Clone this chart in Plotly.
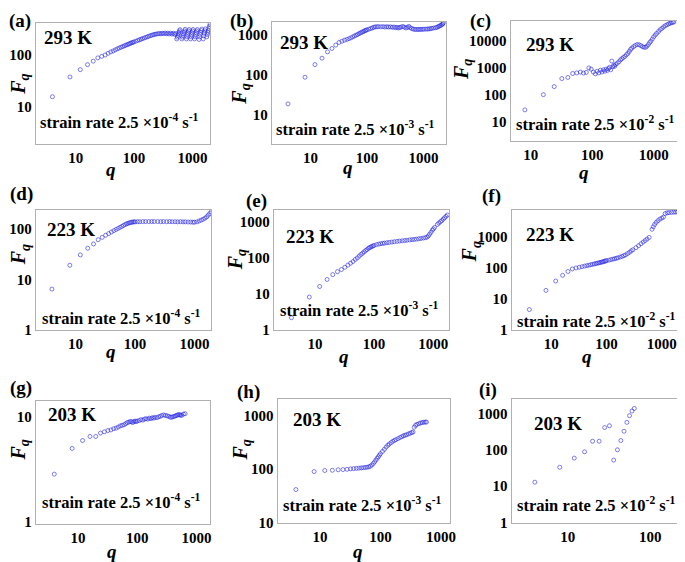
import plotly.graph_objects as go

# ---------------- data ----------------
# (a) 293 K, 2.5e-4 s^-1
qa = [4,8,12,16,20,24,28,32,36,40,44,48,52,56,60,64,68,72,76,80,84,88,92,96,100,
      108,116,124,132,140,150,160,170,180,192,204,216,228,240,256,272,288,304,320,340,360,380,400,424,448,472,500,520,
      540,552,564,576,588,600,612,
      660,675,690,705,720,735,750,
      790,808,826,844,862,880,
      930,950,970,990,1010,1030,
      1090,1115,1140,1165,1190,1215,
      1300,1330,1360,1390,1420,1450,
      1530,1565,1600,1635,1670,
      1760,1800,1840,1880,1920,1960,2000]
Fa = [15.5,37.5,52,65,76,88,94,100,108,115,120,126,132,137,142,146,150,155,158,162,166,170,173,176,180,
      186,192,197,203,208,214,220,226,232,238,243,248,252,255,258,262,258,264,260,266,258,265,256,266,255,264,250,262,
      205,222,240,258,276,294,310,
      205,222,240,258,276,294,315,
      205,225,248,270,292,312,
      205,225,248,270,292,312,
      205,225,248,270,292,312,
      200,225,250,275,298,318,
      205,235,265,295,322,
      225,250,275,300,330,360,395]

# (b) 293 K, 2.5e-3 s^-1
qb = [4,8,12,16,20,24,28,32,36,40,44,48,52,56,60,64,68,72,76,80,84,88,92,96,100,
      108,116,124,132,140,150,160,176,192,208,224,240,260,280,300,320,340,360,380,400,430,460,490,520,550,580,
      620,660,700,750,800,850,900,960,1020,1100,1180,1250,1330,1400,1500,1630,1720,1800,1880,1950,2050,2130,2190,2240]
Fb = [19,88,182,263,380,460,560,650,700,740,775,810,850,900,945,990,1030,1080,1120,1160,1200,1240,1280,1320,1350,
      1400,1450,1500,1560,1600,1600,1620,1600,1620,1580,1610,1580,1600,1560,1580,1520,1560,1500,1540,1580,1640,1560,1500,1560,1640,1520,
      1450,1400,1380,1370,1380,1370,1390,1380,1400,1400,1410,1420,1440,1470,1490,1520,1550,1600,1650,1700,1760,1830,1900,2000]

# (c) 293 K, 2.5e-2 s^-1
qc = [8,16,24,32,40,48,56,64,72,80,88,96,104,112,120,128,136,144,152,160,168,176,184,192,200,208,216,224,232,240,256,272,288,304,320,
      340,360,380,400,420,440,470,500,540,580,620,660,700,740,780,820,860,900,950,1000,1060,1120,1200,1280,1360,1450,1550,1650,1750,1850,1950,2050,2130]
Fc = [27,100,200,400,440,620,650,700,640,680,1000,900,700,600,750,650,820,700,850,750,900,800,950,1050,850,1800,1100,1250,1150,1350,1500,1700,2000,2200,2450,
      2700,3100,3500,4100,4900,5500,6200,6900,7500,7300,6800,6200,5900,5900,6500,7500,8800,10000,12000,14500,17000,19500,23000,27000,30000,34000,38000,41000,44000,47000,49000,50500,52000]

# (d) 223 K, 2.5e-4 s^-1
qd = [4,8,12,16,20,24,28,32,36,40,44,48,52,56,60,64,68,72,76,80,84,88,92,96,100,
      110,120,135,150,170,190,210,240,270,300,340,380,420,470,520,580,640,700,780,860,940,1000,1100,1200,1300,1400,1500,1600,1700,1800,1900]
Fd = [6.5,19.3,31,42,51,62,69,76,82,88,94,99,104,109,114,119,124,128,131,134,136,138,139,140,140,
      141,141,142,142,142,142,142,142,141,142,141,142,141,141,140,141,140,140,139,139,138,138,140,146,152,158,166,176,190,205,222]

# (e) 223 K, 2.5e-3 s^-1
qe = [4,8,12,16,20,24,28,32,36,40,44,48,52,56,60,64,68,72,76,80,84,88,92,96,100,
      110,120,130,140,150,165,180,200,220,245,270,300,330,360,400,440,480,520,570,620,680,740,790,830,870,920,970,1010,
      1060,1180,1250,1330,1400,1480,1560,1650,1740]
Fe = [2.2,8.2,16,25,34,41,47,54,62,70,78,89,98,110,122,132,145,157,166,180,188,196,203,210,217,
      228,236,242,247,251,257,262,268,274,280,286,291,296,301,307,313,318,323,330,337,345,355,367,395,440,500,570,620,
      680,820,900,980,1050,1150,1250,1370,1500]

# (f) 223 K, 2.5e-2 s^-1
qf = [4,8,12,16,20,24,28,32,36,40,44,48,52,56,60,64,68,72,76,80,84,88,92,96,100,
      110,120,130,140,150,160,175,190,205,220,240,260,280,300,340,380,420,460,500,540,590,
      665,700,740,790,850,920,1000,1070,1150,1250,1350,1500,1650,1800,1950,2100,2200]
Ff = [4.6,19,38,58,77,93,100,105,110,115,119,123,127,131,135,139,142,146,149,153,156,160,164,168,172,
      178,186,192,198,205,212,223,235,248,262,290,320,355,385,450,520,600,680,760,850,960,
      1750,2100,2500,2900,3300,3700,4000,4300,5600,5900,6000,6100,6200,6250,6300,6300,6300]

# (g) 203 K, 2.5e-4 s^-1
qg = [4,8,12,16,20,24,28,32,36,40,44,48,52,56,60,64,68,72,76,80,84,88,92,96,100,
      108,116,124,132,140,150,160,170,180,190,200,215,230,245,260,280,300,320,340,360,380,400,420,440,460,480,500,520,540,560,600,640]
Fg = [2.85,5.0,5.95,6.5,6.5,7.0,7.2,7.4,7.5,7.7,7.8,8.0,8.2,8.3,8.4,8.6,8.8,8.9,9.0,9.0,8.8,9.0,9.1,9.0,9.1,
      9.2,9.4,9.3,9.5,9.6,9.5,9.7,9.6,9.8,9.7,9.9,9.8,10.0,10.1,10.3,10.4,10.3,10.2,10.1,9.9,9.9,10.0,10.1,10.2,10.3,10.4,10.5,10.4,10.4,10.3,10.6,10.7]

# (h) 203 K, 2.5e-3 s^-1
qh = [4,8,12,16,20,24,28,32,36,40,44,48,52,56,60,64,68,72,76,80,84,88,92,96,100,
      108,116,124,132,140,150,160,170,180,195,210,225,240,255,270,290,310,330,345,360,380,400,430,460,490,520,550,575]
Fh = [41,89,93,94,96,97,98,100,101,102,103,104,105,106,107,109,112,118,126,135,146,158,168,180,192,
      212,232,255,275,292,310,328,340,352,368,385,400,415,425,435,450,465,478,490,600,650,680,700,720,735,745,750,750]

# (i) 203 K, 2.5e-2 s^-1
qi = [4,8,12,16,20,24,28,32,36,40,44,48,52,56,60,64]
Fi = [12.8,33,59,88,172,172,410,460,52,100,180,325,570,870,1170,1380]

tick_vals = [1, 10, 100, 1000, 10000]
tick_text = ["1", "10", "100", "1000", "10000"]

# ---------------- layout per panel ----------------
W, H = 685, 562
SERIF = "Liberation Serif"

panels = [
    dict(q=qa, F=Fa, box=(28, 15, 204, 138), xr=(0.317, 3.305), yr=(0.273, 2.625), letter="(a)", lab=(12, 13),
         T="293 K", tp=(61, 30), rate="-4", rp=(30, 115), fq=(12, 77), qp=(104, 164)),
    dict(q=qb, F=Fb, box=(266, 14, 442, 138), xr=(0.313, 3.40), yr=(0.274, 3.33), letter="(b)", lab=(236, 13),
         T="293 K", tp=(299, 35), rate="-3", rp=(268, 122), fq=(235, 87), qp=(343, 162)),
    dict(q=qc, F=Fc, box=(507, 13, 683, 135), xr=(0.67, 3.51), yr=(0.265, 4.76), letter="(c)", lab=(477, 13),
         T="293 K", tp=(547, 37), rate="-2", rp=(510, 117), fq=(458, 62), qp=(581, 167)),
    dict(q=qd, F=Fd, box=(28, 205, 205, 327), xr=(0.33, 3.28), yr=(-0.005, 2.38), letter="(d)", lab=(14, 189),
         T="223 K", tp=(64, 225), rate="-4", rp=(32, 314), fq=(12, 250), qp=(104, 348)),
    dict(q=qe, F=Fe, box=(268, 205, 445, 327), xr=(0.30, 3.27), yr=(-0.005, 3.31), letter="(e)", lab=(251, 196),
         T="223 K", tp=(305, 232), rate="-3", rp=(272, 306), fq=(230, 255), qp=(339, 354)),
    dict(q=qf, F=Ff, box=(508, 205, 683, 327), xr=(0.28, 3.42), yr=(-0.005, 3.86), letter="(f)", lab=(488, 191),
         T="223 K", tp=(547, 230), rate="-2", rp=(511, 317), fq=(467, 247), qp=(584, 354)),
    dict(q=qg, F=Fg, box=(28, 399, 204, 523), xr=(0.29, 3.23), yr=(-0.015, 1.147), letter="(g)", lab=(13, 385),
         T="203 K", tp=(65, 412), rate="-4", rp=(32, 501), fq=(12, 448), qp=(105, 551)),
    dict(q=qh, F=Fh, box=(272, 397, 446, 522), xr=(0.30, 3.15), yr=(0.995, 3.30), letter="(h)", lab=(243, 390),
         T="203 K", tp=(312, 417), rate="-3", rp=(275, 504), fq=(236, 448), qp=(353, 551)),
    dict(q=qi, F=Fi, box=(508, 397, 683, 522), xr=(0.32, 2.42), yr=(-0.005, 3.39), letter="(i)", lab=(484, 388),
         T="203 K", tp=(555, 422), rate="-2", rp=(511, 504), fq=None, qp=None),
]


def px(x):
    return x / W


def py(y):
    return 1 - y / H


fig = go.Figure()
annotations = []
marker = dict(symbol="circle-open", size=4, color="rgba(40,40,225,0.75)", line=dict(width=0.8))

for i, p in enumerate(panels):
    n = "" if i == 0 else str(i + 1)
    x0, y0, x1, y1 = p["box"]
    fig.add_trace(go.Scatter(x=p["q"], y=p["F"], mode="markers", marker=marker,
                             xaxis="x" + n, yaxis="y" + n, showlegend=False, hoverinfo="x+y"))
    common = dict(type="log", showgrid=False, zeroline=False, showline=True, mirror=True,
                  linecolor="#b0b0b0", linewidth=1, ticks="",
                  tickvals=tick_vals, ticktext=tick_text,
                  tickfont=dict(family=SERIF, size=15, color="black", weight="bold"))
    fig.layout["xaxis" + n] = dict(common, domain=[px(x0), px(x1)], range=list(p["xr"]), anchor="y" + n)
    fig.layout["yaxis" + n] = dict(common, domain=[py(y1), py(y0)], range=list(p["yr"]), anchor="x" + n)

    annotations.append(dict(text="<b>" + p["letter"] + "</b>", x=px(p["lab"][0]), y=py(p["lab"][1]),
                            xref="paper", yref="paper", showarrow=False, xanchor="center", yanchor="middle",
                            font=dict(family=SERIF, size=19, color="black")))
    annotations.append(dict(text="<b>" + p["T"] + "</b>", x=px(p["tp"][0]), y=py(p["tp"][1]),
                            xref="paper", yref="paper", showarrow=False, xanchor="center", yanchor="middle",
                            font=dict(family=SERIF, size=19, color="black")))
    annotations.append(dict(text="<b>strain rate 2.5 ×10<sup>" + p["rate"] + "</sup> s<sup>-1</sup></b>",
                            x=px(p["rp"][0]), y=py(p["rp"][1]),
                            xref="paper", yref="paper", showarrow=False, xanchor="left", yanchor="middle",
                            font=dict(family=SERIF, size=16.5, color="black")))
    if p["fq"]:
        annotations.append(dict(text="<b><i>F</i></b><sub><b><i>q</i></b></sub>", x=px(p["fq"][0]), y=py(p["fq"][1]),
                                xref="paper", yref="paper", showarrow=False, xanchor="center", yanchor="middle",
                                textangle=-90, font=dict(family=SERIF, size=20, color="black")))
    if p["qp"]:
        annotations.append(dict(text="<b><i>q</i></b>", x=px(p["qp"][0]), y=py(p["qp"][1]),
                                xref="paper", yref="paper", showarrow=False, xanchor="center", yanchor="middle",
                                font=dict(family=SERIF, size=19, color="black")))

fig.update_layout(width=W, height=H, margin=dict(l=0, r=0, t=0, b=0),
                  paper_bgcolor="white", plot_bgcolor="white", showlegend=False,
                  annotations=annotations)

fig.write_html("out.html")
